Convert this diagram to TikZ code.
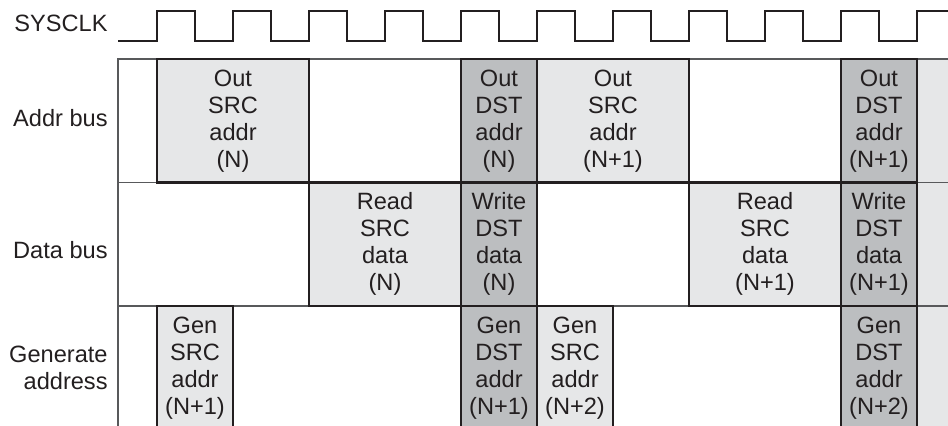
\documentclass[tikz,border=0pt]{standalone}
\usepackage{fontspec}
\setmainfont{Liberation Sans}
\definecolor{inkline}{HTML}{231F20}
\definecolor{liteg}{HTML}{E6E7E8}
\definecolor{darkg}{HTML}{BCBEC0}
\definecolor{gridg}{HTML}{58595B}

\begin{document}
\begin{tikzpicture}[x=0.5pt, y=-0.5pt,
    font=\fontsize{11.8}{13.5}\selectfont, text=inkline,
    lbl/.style={anchor=east, align=right, inner sep=0pt},
    cyc/.style={draw=inkline, line width=1.1pt, align=center, inner sep=0pt,
        minimum height=61.75pt},
    litebox/.style={cyc, fill=liteg},
    darkbox/.style={cyc, fill=darkg},
    gridline/.style={draw=gridg, line width=0.6pt},
    clk/.style={draw=inkline, line width=1.4pt}]
    \clip (0,0) rectangle (948,425);

    % labels on the left
    \node[lbl] (sysclk) at (108,23) {SYSCLK};
    \node[lbl] (addrlbl) at (108,118) {Addr bus};
    \node[lbl] (datalbl) at (108,250) {Data bus};
    \node[lbl] (genlbl) at (108,368) {Generate\\address};

    % clock
    \draw[clk] (118,41) \foreach \r in {157,233,...,841} {
        -- (\r,41) -- (\r,11) -- ({\r+38},11) -- ({\r+38},41) }
        -- (917,41) -- (917,11) -- (948,11);

    % grid
    \fill[liteg] (917,59) rectangle (948,430);
    \draw[gridline] (948,59) -- (118,59) -- (118,430);
    \draw[gridline] (118,182.5) -- (948,182.5);
    \draw[gridline] (118,306) -- (948,306);

    % Addr bus
    \node[litebox, minimum width=76pt] (osa1) at (233,120.75) {Out\\SRC\\addr\\(N)};
    \node[darkbox, minimum width=38pt] (oda1) at (499,120.75) {Out\\DST\\addr\\(N)};
    \node[litebox, minimum width=76pt] (osa2) at (613,120.75) {Out\\SRC\\addr\\(N+1)};
    \node[darkbox, minimum width=38pt] (oda2) at (879,120.75) {Out\\DST\\addr\\(N+1)};

    % Data bus
    \node[litebox, minimum width=76pt] (rsd1) at (385,244.25) {Read\\SRC\\data\\(N)};
    \node[darkbox, minimum width=38pt] (wdd1) at (499,244.25) {Write\\DST\\data\\(N)};
    \node[litebox, minimum width=76pt] (rsd2) at (765,244.25) {Read\\SRC\\data\\(N+1)};
    \node[darkbox, minimum width=38pt] (wdd2) at (879,244.25) {Write\\DST\\data\\(N+1)};

    % Generate address
    \node[litebox, minimum width=38pt] (gsa1) at (195,367.75) {Gen\\SRC\\addr\\(N+1)};
    \node[darkbox, minimum width=38pt] (gda1) at (499,367.75) {Gen\\DST\\addr\\(N+1)};
    \node[litebox, minimum width=38pt] (gsa2) at (575,367.75) {Gen\\SRC\\addr\\(N+2)};
    \node[darkbox, minimum width=38pt] (gda2) at (879,367.75) {Gen\\DST\\addr\\(N+2)};
\end{tikzpicture}
\end{document}
